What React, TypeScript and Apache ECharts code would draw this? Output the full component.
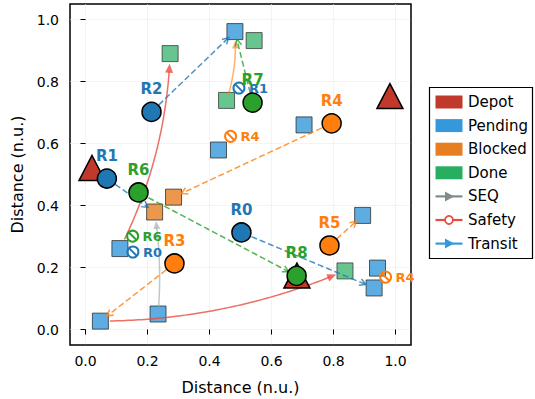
import React, { useEffect, useRef } from "react";
import * as echarts from "echarts";

// ---------- data ----------
const tickValues = [0, 0.2, 0.4, 0.6, 0.8, 1.0];

const depotX = [0.021, 0.982, 0.682];
const depotY = [0.521, 0.753, 0.174];

const pendingX = [0.482, 0.429, 0.705, 0.111, 0.048, 0.234, 0.894, 0.942, 0.931];
const pendingY = [0.961, 0.579, 0.66, 0.261, 0.027, 0.05, 0.368, 0.198, 0.134];

const blockedX = [0.223, 0.284];
const blockedY = [0.379, 0.427];

const doneX = [0.273, 0.544, 0.455, 0.837];
const doneY = [0.89, 0.932, 0.739, 0.189];

const robotNames = ["R0", "R1", "R2", "R3", "R4", "R5", "R6", "R7", "R8"];
const robotX = [0.503, 0.069, 0.213, 0.287, 0.794, 0.787, 0.171, 0.539, 0.681];
const robotY = [0.313, 0.487, 0.702, 0.213, 0.665, 0.271, 0.442, 0.732, 0.173];
const robotTeam = ["blue", "blue", "blue", "orange", "orange", "orange", "green", "green", "green"];

// transit moves: robot -> target
const transitRobot = [2, 1, 6, 4, 3, 0, 5, 7];
const transitToX = [0.482, 0.223, 0.681, 0.284, 0.048, 0.931, 0.894, 0.482];
const transitToY = [0.961, 0.379, 0.173, 0.427, 0.027, 0.134, 0.368, 0.961];

// sequence links
const seqFromX = [0.234, 0.455];
const seqFromY = [0.05, 0.739];
const seqToX = [0.223, 0.482];
const seqToY = [0.379, 0.961];
const seqTeam = ["gray", "orange"];

// safety links
const safetyFromX = [0.111, 0.048];
const safetyFromY = [0.261, 0.027];
const safetyToX = [0.273, 0.837];
const safetyToY = [0.89, 0.189];

// safety conflict markers
const conflictRobot = [1, 4, 6, 0, 4];
const conflictX = [0.495, 0.468, 0.152, 0.153, 0.968];
const conflictY = [0.779, 0.623, 0.301, 0.25, 0.169];

// legend
const legendPatchLabels = ["Depot", "Pending", "Blocked", "Done"];
const legendLineLabels = ["SEQ", "Safety", "Transit"];

// ---------- styles ----------
const FONT = "DejaVu Sans";
const teamColor: Record<string, string> = {
  blue: "#1f77b4",
  orange: "#ff7f0e",
  green: "#2ca02c",
  gray: "#95a5a6",
};
const seqCurve = [-0.06, -0.1];
const safetyCurve = [-0.11, -0.1];
const legendPatchColors = ["#c0392b", "#3498db", "#e67e22", "#27ae60"];
const legendLineColors = ["#7f8c8d", "#e74c3c", "#3498db"];

type ArrowCfg = {
  curves: number[];
  colors: string[];
  dash: number[] | null;
  head: "open" | "filled";
  headLen: number;
  headW: number;
  shrinkA: number;
  shrinkB: number;
  width: number;
  opacity: number;
};

function makeArrowRenderer(cfg: ArrowCfg) {
  return (params: any, api: any) => {
    const i = params.dataIndex;
    const p1 = api.coord([api.value(0), api.value(1)]);
    const p2 = api.coord([api.value(2), api.value(3)]);
    const c = cfg.curves[i] || 0;
    const cp = [
      (p1[0] + p2[0]) / 2 - (p1[1] - p2[1]) * c,
      (p1[1] + p2[1]) / 2 - (p2[0] - p1[0]) * c,
    ];
    const N = 80;
    const pts: number[][] = [];
    for (let k = 0; k <= N; k++) {
      const t = k / N;
      const a = (1 - t) * (1 - t);
      const b = 2 * t * (1 - t);
      const d = t * t;
      pts.push([a * p1[0] + b * cp[0] + d * p2[0], a * p1[1] + b * cp[1] + d * p2[1]]);
    }
    const dist = (p: number[], q: number[]) => Math.hypot(p[0] - q[0], p[1] - q[1]);
    const tr = pts.filter((p) => dist(p, p1) >= cfg.shrinkA && dist(p, p2) >= cfg.shrinkB);
    if (tr.length < 2) return { type: "group", children: [] };
    const E = tr[tr.length - 1];
    let P = tr[tr.length - 2];
    for (let k = tr.length - 2; k >= 0; k--) {
      P = tr[k];
      if (dist(P, E) > 4) break;
    }
    const len = dist(P, E) || 1;
    const dx = (E[0] - P[0]) / len;
    const dy = (E[1] - P[1]) / len;
    const color = cfg.colors[i];
    const children: any[] = [];
    let linePts = tr;
    let head: any;
    if (cfg.head === "filled") {
      const base = [E[0] - dx * cfg.headLen, E[1] - dy * cfg.headLen];
      linePts = tr.filter((p) => dist(p, E) >= cfg.headLen * 0.7);
      linePts.push(base);
      head = {
        type: "polygon",
        shape: {
          points: [
            E,
            [base[0] - dy * cfg.headW, base[1] + dx * cfg.headW],
            [base[0] + dy * cfg.headW, base[1] - dx * cfg.headW],
          ],
        },
        style: { fill: color, opacity: cfg.opacity },
      };
    } else {
      const ang = 0.5;
      const ca = Math.cos(ang);
      const sa = Math.sin(ang);
      const l1 = [E[0] - cfg.headLen * (dx * ca - dy * sa), E[1] - cfg.headLen * (dy * ca + dx * sa)];
      const l2 = [E[0] - cfg.headLen * (dx * ca + dy * sa), E[1] - cfg.headLen * (dy * ca - dx * sa)];
      head = {
        type: "polyline",
        shape: { points: [l1, E, l2] },
        style: { stroke: color, lineWidth: cfg.width, fill: "none", opacity: cfg.opacity },
      };
    }
    children.push({
      type: "polyline",
      shape: { points: linePts },
      style: {
        stroke: color,
        lineWidth: cfg.width,
        fill: "none",
        opacity: cfg.opacity,
        lineDash: cfg.dash || undefined,
      },
    });
    children.push(head);
    return { type: "group", children };
  };
}

function legendGraphics() {
  const g: any[] = [];
  const bx = 429.5;
  const by = 87.5;
  g.push({
    type: "rect",
    shape: { x: bx, y: by, width: 103, height: 171 },
    style: { fill: "#fff", stroke: "#000", lineWidth: 1.2 },
    z: 100,
  });
  const rowY = (k: number) => by + 14.5 + k * 23.6;
  legendPatchLabels.forEach((lab, k) => {
    g.push({
      type: "rect",
      shape: { x: bx + 6, y: rowY(k) - 6.5, width: 27, height: 13 },
      style: { fill: legendPatchColors[k] },
      z: 101,
    });
    g.push({
      type: "text",
      x: bx + 38.5,
      y: rowY(k),
      style: { text: lab, fill: "#000", fontSize: 15, fontFamily: FONT, verticalAlign: "middle", align: "left" },
      z: 101,
    });
  });
  legendLineLabels.forEach((lab, j) => {
    const k = j + 4;
    const y = rowY(k);
    const col = legendLineColors[j];
    g.push({
      type: "line",
      shape: { x1: bx + 6, y1: y, x2: bx + 33, y2: y },
      style: { stroke: col, lineWidth: 2.2 },
      z: 101,
    });
    const cx = bx + 19.5;
    if (lab === "Safety") {
      g.push({
        type: "circle",
        shape: { cx, cy: y, r: 4 },
        style: { fill: "#fff", stroke: col, lineWidth: 1.8 },
        z: 102,
      });
    } else {
      g.push({
        type: "polygon",
        shape: { points: [[cx + 5, y], [cx - 4, y - 5], [cx - 4, y + 5]] },
        style: { fill: col },
        z: 102,
      });
    }
    g.push({
      type: "text",
      x: bx + 38.5,
      y,
      style: { text: lab, fill: "#000", fontSize: 15, fontFamily: FONT, verticalAlign: "middle", align: "left" },
      z: 101,
    });
  });
  return g;
}

export default function App() {
  const ref = useRef<HTMLDivElement>(null);
  useEffect(() => {
    if (!ref.current) return;
    const chart = echarts.init(ref.current, undefined, { renderer: "svg" });

    const axisCommon = (name: string, gap: number, margin: number) => ({
      type: "value",
      min: -0.05,
      max: 1.05,
      name,
      nameLocation: "middle",
      nameGap: gap,
      nameTextStyle: { fontSize: 16, color: "#000", fontFamily: FONT },
      axisLine: { show: false },
      axisTick: {
        show: true,
        inside: false,
        length: 5,
        lineStyle: { color: "#000", width: 1 },
        customValues: tickValues,
      },
      axisLabel: {
        show: true,
        margin,
        fontSize: 14,
        color: "#000",
        fontFamily: FONT,
        customValues: tickValues,
        formatter: (v: number) => v.toFixed(1),
      },
      splitLine: {
        show: true,
        lineStyle: { color: "#e2e2e2", type: "dotted", width: 0.8 },
      },
    });

    const transitData = transitRobot.map((r, i) => [robotX[r], robotY[r], transitToX[i], transitToY[i]]);
    const seqData = seqFromX.map((x, i) => [x, seqFromY[i], seqToX[i], seqToY[i]]);
    const safetyData = safetyFromX.map((x, i) => [x, safetyFromY[i], safetyToX[i], safetyToY[i]]);

    const option: any = {
      animation: false,
      backgroundColor: "#fff",
      textStyle: { fontFamily: FONT },
      grid: {
        left: 70,
        top: 4,
        width: 341,
        height: 341,
        show: true,
        borderColor: "#000",
        borderWidth: 1.5,
        backgroundColor: "transparent",
        containLabel: false,
        outerBoundsMode: "none",
      },
      xAxis: axisCommon("Distance (n.u.)", 34, 9),
      yAxis: axisCommon("Distance (n.u.)", 44, 11),
      graphic: legendGraphics(),
      series: [
        {
          name: "Pending",
          type: "scatter",
          symbol: "rect",
          symbolSize: 16,
          z: 2,
          itemStyle: { color: "rgba(52,152,219,0.8)", borderColor: "rgba(40,40,40,0.75)", borderWidth: 1, opacity: 1 },
          data: pendingX.map((x, i) => [x, pendingY[i]]),
        },
        {
          name: "Blocked",
          type: "scatter",
          symbol: "rect",
          symbolSize: 16,
          z: 2,
          itemStyle: { color: "rgba(230,126,34,0.8)", borderColor: "rgba(40,40,40,0.75)", borderWidth: 1, opacity: 1 },
          data: blockedX.map((x, i) => [x, blockedY[i]]),
        },
        {
          name: "Done",
          type: "scatter",
          symbol: "rect",
          symbolSize: 16,
          z: 2,
          itemStyle: { color: "rgba(39,174,96,0.7)", borderColor: "rgba(40,40,40,0.7)", borderWidth: 1, opacity: 1 },
          data: doneX.map((x, i) => [x, doneY[i]]),
        },
        {
          name: "SEQ",
          type: "custom",
          z: 3,
          silent: true,
          clip: false,
          renderItem: makeArrowRenderer({
            curves: seqCurve,
            colors: seqTeam.map((t) => teamColor[t]),
            dash: null,
            head: "filled",
            headLen: 8,
            headW: 3.5,
            shrinkA: 6,
            shrinkB: 8,
            width: 1.5,
            opacity: 0.6,
          }),
          data: seqData,
        },
        {
          name: "Safety",
          type: "custom",
          z: 3,
          silent: true,
          clip: false,
          renderItem: makeArrowRenderer({
            curves: safetyCurve,
            colors: safetyData.map(() => "#e74c3c"),
            dash: null,
            head: "filled",
            headLen: 9,
            headW: 4,
            shrinkA: 8,
            shrinkB: 8,
            width: 1.5,
            opacity: 0.8,
          }),
          data: safetyData,
        },
        {
          name: "Transit",
          type: "custom",
          z: 3,
          silent: true,
          clip: false,
          renderItem: makeArrowRenderer({
            curves: transitRobot.map(() => 0),
            colors: transitRobot.map((r) => teamColor[robotTeam[r]]),
            dash: [6, 3],
            head: "open",
            headLen: 7,
            headW: 0,
            shrinkA: 10,
            shrinkB: 8,
            width: 1.5,
            opacity: 0.8,
          }),
          data: transitData,
        },
        {
          name: "Conflicts",
          type: "custom",
          z: 4,
          silent: true,
          clip: false,
          renderItem: (params: any, api: any) => {
            const i = params.dataIndex;
            const p = api.coord([api.value(0), api.value(1)]);
            const col = teamColor[robotTeam[conflictRobot[i]]];
            const r = 5.5;
            const o = r * Math.SQRT1_2;
            return {
              type: "group",
              children: [
                { type: "circle", shape: { cx: p[0], cy: p[1], r }, style: { fill: "none", stroke: col, lineWidth: 2 } },
                {
                  type: "line",
                  shape: { x1: p[0] - o, y1: p[1] - o, x2: p[0] + o, y2: p[1] + o },
                  style: { stroke: col, lineWidth: 2 },
                },
                {
                  type: "text",
                  x: p[0] + r + 4.5,
                  y: p[1],
                  style: {
                    text: robotNames[conflictRobot[i]],
                    fill: col,
                    fontSize: 13,
                    fontWeight: "bold",
                    fontFamily: FONT,
                    verticalAlign: "middle",
                    align: "left",
                  },
                },
              ],
            };
          },
          data: conflictX.map((x, i) => [x, conflictY[i]]),
        },
        {
          name: "Depot",
          type: "scatter",
          symbol: "triangle",
          symbolSize: [26, 25],
          z: 5,
          itemStyle: { color: "#c0392b", borderColor: "#000", borderWidth: 1.5, opacity: 1 },
          data: depotX.map((x, i) => [x, depotY[i]]),
        },
        {
          name: "Robots",
          type: "scatter",
          symbol: "circle",
          symbolSize: 19,
          z: 6,
          itemStyle: { borderColor: "#000", borderWidth: 1.5, opacity: 1 },
          label: {
            show: true,
            position: "top",
            distance: 5,
            formatter: "{b}",
            fontSize: 15,
            fontWeight: "bold",
            fontFamily: FONT,
          },
          data: robotX.map((x, i) => ({
            name: robotNames[i],
            value: [x, robotY[i]],
            itemStyle: { color: teamColor[robotTeam[i]] },
            label: { color: teamColor[robotTeam[i]] },
          })),
        },
      ],
    };
    chart.setOption(option);
    return () => chart.dispose();
  }, []);
  return <div ref={ref} style={{ width: 535, height: 399, position: "absolute", left: 0, top: 0 }} />;
}
